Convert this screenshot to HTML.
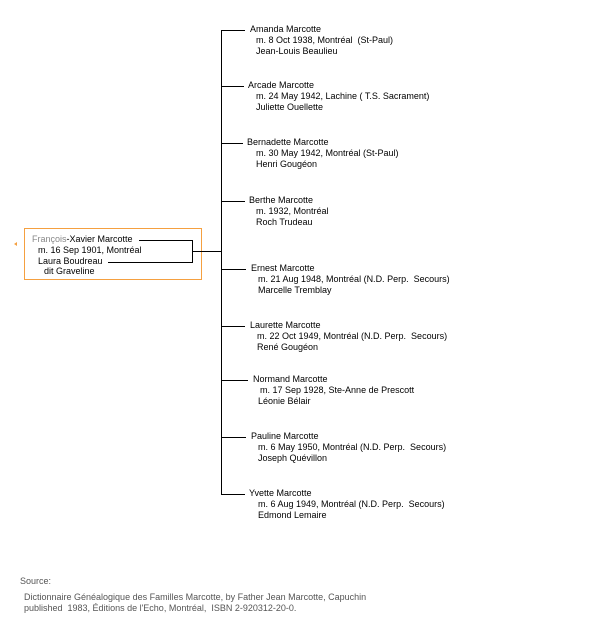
<!DOCTYPE html>
<html><head><meta charset="utf-8"><style>
body{margin:0;width:605px;height:638px;background:#fff;position:relative;overflow:hidden;font-family:"Liberation Sans",Arial,sans-serif;font-size:9px;color:#000}
.t{position:absolute;white-space:pre;line-height:11px}
.l{position:absolute;background:#000}
</style></head><body>
<div class="l" style="left:221px;top:30px;width:1px;height:465px"></div>
<!-- branches -->
<div class="l" style="left:221px;top:30px;width:24px;height:1px"></div>
<div class="l" style="left:221px;top:86px;width:23px;height:1px"></div>
<div class="l" style="left:221px;top:143px;width:22px;height:1px"></div>
<div class="l" style="left:221px;top:201px;width:24px;height:1px"></div>
<div class="l" style="left:221px;top:269px;width:25px;height:1px"></div>
<div class="l" style="left:221px;top:326px;width:24px;height:1px"></div>
<div class="l" style="left:221px;top:380px;width:27px;height:1px"></div>
<div class="l" style="left:221px;top:437px;width:25px;height:1px"></div>
<div class="l" style="left:221px;top:494px;width:24px;height:1px"></div>

<div class="t" style="left:250px;top:24px">Amanda Marcotte</div>
<div class="t" style="left:256px;top:35px">m. 8 Oct 1938, Montréal  (St-Paul)
Jean-Louis Beaulieu</div>
<div class="t" style="left:248px;top:80px">Arcade Marcotte</div>
<div class="t" style="left:256px;top:91px">m. 24 May 1942, Lachine ( T.S. Sacrament)
Juliette Ouellette</div>
<div class="t" style="left:247px;top:137px">Bernadette Marcotte</div>
<div class="t" style="left:256px;top:148px">m. 30 May 1942, Montréal (St-Paul)
Henri Gougéon</div>
<div class="t" style="left:249px;top:195px">Berthe Marcotte</div>
<div class="t" style="left:256px;top:206px">m. 1932, Montréal
Roch Trudeau</div>
<div class="t" style="left:251px;top:263px">Ernest Marcotte</div>
<div class="t" style="left:258px;top:274px">m. 21 Aug 1948, Montréal (N.D. Perp.  Secours)
Marcelle Tremblay</div>
<div class="t" style="left:250px;top:320px">Laurette Marcotte</div>
<div class="t" style="left:257px;top:331px">m. 22 Oct 1949, Montréal (N.D. Perp.  Secours)
René Gougéon</div>
<div class="t" style="left:253px;top:374px">Normand Marcotte</div>
<div class="t" style="left:260px;top:385px">m. 17 Sep 1928, Ste-Anne de Prescott</div>
<div class="t" style="left:258px;top:396px">Léonie Bélair</div>
<div class="t" style="left:251px;top:431px">Pauline Marcotte</div>
<div class="t" style="left:258px;top:442px">m. 6 May 1950, Montréal (N.D. Perp.  Secours)
Joseph Quévillon</div>
<div class="t" style="left:249px;top:488px">Yvette Marcotte</div>
<div class="t" style="left:258px;top:499px">m. 6 Aug 1949, Montréal (N.D. Perp.  Secours)
Edmond Lemaire</div>

<!-- parent box -->
<div style="position:absolute;left:24px;top:228px;width:176px;height:50px;border:1px solid #f5a040"></div>
<div style="position:absolute;left:14px;top:242px;width:0;height:0;border-top:2px solid transparent;border-bottom:2px solid transparent;border-right:3px solid #f5a040"></div>
<div class="t" style="left:32px;top:234px"><span style="color:#888">François</span>-Xavier Marcotte</div>
<div class="t" style="left:38px;top:245px">m. 16 Sep 1901, Montréal</div>
<div class="t" style="left:38px;top:256px">Laura Boudreau</div>
<div class="t" style="left:44px;top:266px">dit Graveline</div>
<div class="l" style="left:139px;top:240px;width:53px;height:1px"></div>
<div class="l" style="left:108px;top:262px;width:85px;height:1px"></div>
<div class="l" style="left:192px;top:240px;width:1px;height:23px"></div>
<div class="l" style="left:193px;top:251px;width:29px;height:1px"></div>

<div class="t" style="left:20px;top:576px;color:#555">Source:</div>
<div class="t" style="left:24px;top:592px;color:#555">Dictionnaire Généalogique des Familles Marcotte, by Father Jean Marcotte, Capuchin
published  1983, Éditions de l'Echo, Montréal,  ISBN 2-920312-20-0.</div>
</body></html>
